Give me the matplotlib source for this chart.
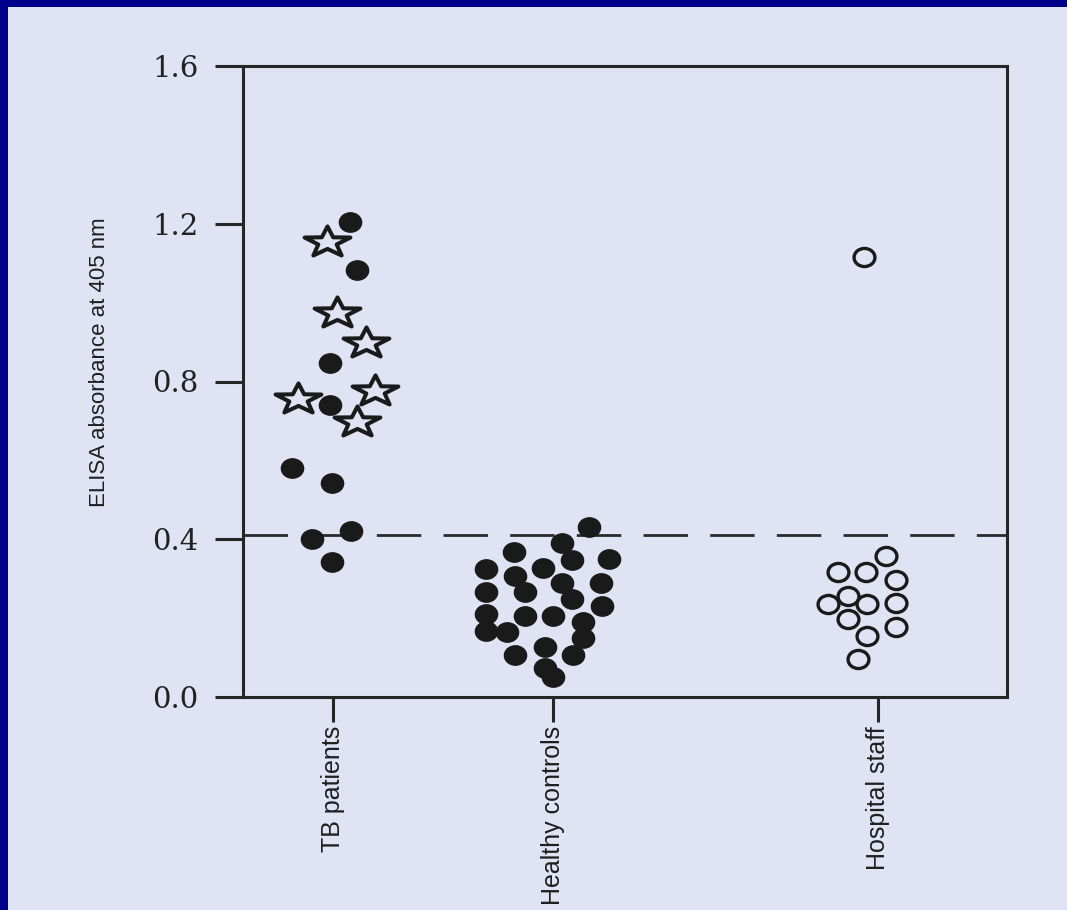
import numpy as np
import matplotlib
matplotlib.use('Agg')
import matplotlib.pyplot as plt
from matplotlib.path import Path
from matplotlib.patches import Rectangle

# ---------------- data ----------------
categories = ['TB patients', 'Healthy controls', 'Hospital staff']

tb_dot_values = [1.204, 1.083, 0.847, 0.740, 0.581, 0.543, 0.421, 0.401, 0.342]
tb_dot_offsets = [0.17, 0.24, -0.03, -0.03, -0.41, -0.01, 0.18, -0.21, -0.01]

tb_star_values = [1.154, 0.974, 0.898, 0.776, 0.756, 0.697]
tb_star_offsets = [-0.06, 0.04, 0.33, 0.42, -0.35, 0.24]

hc_values = [0.431, 0.390, 0.367, 0.347, 0.350, 0.325, 0.327, 0.307, 0.289, 0.289,
             0.266, 0.266, 0.248, 0.231, 0.210, 0.205, 0.205, 0.190, 0.167, 0.165,
             0.150, 0.127, 0.106, 0.106, 0.074, 0.051]
hc_offsets = [0.36, 0.09, -0.39, 0.19, 0.56, -0.67, -0.10, -0.38, 0.09, 0.48,
              -0.67, -0.28, 0.19, 0.49, -0.67, -0.28, 0.00, 0.30, -0.67, -0.46,
              0.30, -0.08, -0.38, 0.20, -0.08, 0.00]

hs_values = [1.115, 0.358, 0.317, 0.317, 0.297, 0.256, 0.236, 0.236, 0.238,
             0.198, 0.178, 0.155, 0.096]
hs_offsets = [-0.14, 0.08, -0.40, -0.12, 0.18, -0.30, -0.50, -0.11, 0.18,
              -0.30, 0.18, -0.11, -0.20]

cutoff = 0.41
y_ticks = [0.0, 0.4, 0.8, 1.2, 1.6]
y_tick_labels = ['0.0', '0.4', '0.8', '1.2', '1.6']
y_label = 'ELISA absorbance at 405 nm'

# ---------------- layout ----------------
group_pos = [0.90, 3.10, 6.35]
x_limits = (0.0, 7.64)

W, H = 1067, 910
BLUE = '#00008a'
PAGE = '#e0e3f3'
INK = '#1a1a1a'

fig = plt.figure(figsize=(W / 100, H / 100), dpi=100, facecolor=PAGE)
# blue slide border on left and top
fig.add_artist(Rectangle((0, 0), 8 / W, 1, transform=fig.transFigure,
                         facecolor=BLUE, edgecolor='none', zorder=-5))
fig.add_artist(Rectangle((0, 1 - 7 / H), 1, 7 / H, transform=fig.transFigure,
                         facecolor=BLUE, edgecolor='none', zorder=-5))

ax = fig.add_axes([243 / W, (H - 697) / H, (1007 - 243) / W, (697 - 66) / H])
ax.set_facecolor('none')

# markers
ang = np.pi / 2 + np.arange(10) * np.pi / 5
rad = np.where(np.arange(10) % 2 == 0, 1.0, 0.40)
star_verts = np.column_stack([1.5 * rad * np.cos(ang), rad * np.sin(ang)])
star_verts = np.vstack([star_verts, star_verts[:1]])
star_marker = Path(star_verts, closed=True)

circ = Path.unit_circle()
ell_marker = Path(circ.vertices * np.array([1.15, 1.0]), circ.codes)


def xs(group, offsets):
    return [group_pos[group] + o for o in offsets]


ax.plot(xs(0, tb_dot_offsets), tb_dot_values, ls='none', marker=ell_marker,
        ms=16, mfc=INK, mec=INK, mew=1.0, zorder=3)
ax.plot(xs(0, tb_star_offsets), tb_star_values, ls='none', marker=star_marker,
        ms=33, mfc='none', mec=INK, mew=2.9, zorder=3)
ax.plot(xs(1, hc_offsets), hc_values, ls='none', marker=ell_marker,
        ms=16, mfc=INK, mec=INK, mew=1.0, zorder=3)
ax.plot(xs(2, hs_offsets), hs_values, ls='none', marker=ell_marker,
        ms=15, mfc='none', mec=INK, mew=2.4, zorder=3)

ax.axhline(cutoff, color='#2a2a2a', lw=2, dashes=(16, 8), zorder=2)

ax.set_xlim(*x_limits)
ax.set_ylim(y_ticks[0], y_ticks[-1])

for s in ax.spines.values():
    s.set_linewidth(2.2)
    s.set_color('#262626')

ax.set_yticks(y_ticks)
ax.set_yticklabels(y_tick_labels, family='DejaVu Serif', fontsize=21, color='#222222')
ax.tick_params(axis='y', direction='out', length=20, width=2.2, pad=12, color='#262626')

ax.set_xticks(group_pos)
ax.set_xticklabels(categories, rotation=90, family='Liberation Sans', fontsize=18,
                   color='#1e1e1e', va='top', ha='center')
ax.tick_params(axis='x', direction='out', length=18, width=2.2, pad=3, color='#262626')

fig.text(100 / W, 1 - 362 / H, y_label, rotation=90, ha='center', va='center',
         family='Liberation Sans', fontsize=16, color='#1e1e1e')

fig.savefig('out.png', dpi=100, facecolor=PAGE)
